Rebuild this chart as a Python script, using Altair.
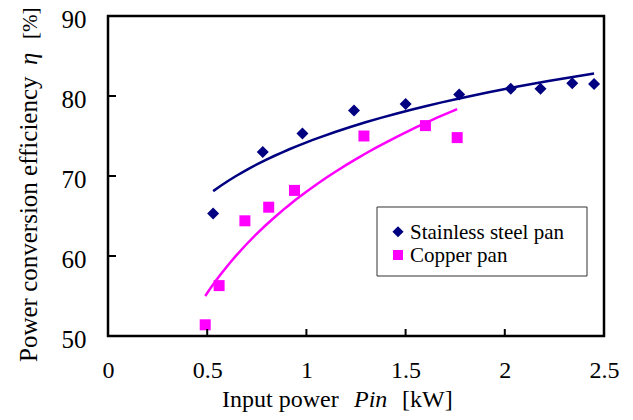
import altair as alt
import pandas as pd

# Stainless steel pan measurements
ss_power = [0.53, 0.78, 0.98, 1.24, 1.50, 1.77, 2.03, 2.18, 2.34, 2.45]
ss_eff = [65.3, 73.0, 75.3, 78.2, 79.0, 80.2, 80.9, 80.9, 81.6, 81.5]
# Copper pan measurements
cu_power = [0.49, 0.56, 0.69, 0.81, 0.94, 1.29, 1.60, 1.76]
cu_eff = [51.4, 56.3, 64.4, 66.1, 68.2, 75.0, 76.3, 74.8]

series_names = ["Stainless steel pan", "Copper pan"]
series_colors = ["#000080", "#FF00FF"]
series_shapes = ["diamond", "square"]
series_sizes = [144, 121]

x_ticks = [0, 0.5, 1, 1.5, 2, 2.5]
y_ticks = [50, 60, 70, 80, 90]

x_title_parts = ["Input power", "Pin", "[kW]"]
y_title_parts = ["Power conversion efficiency", "η", "[%]"]

df = pd.DataFrame({
    "P": ss_power + cu_power,
    "eta": ss_eff + cu_eff,
    "series": [series_names[0]] * len(ss_power) + [series_names[1]] * len(cu_power),
})

FONT = "Times New Roman"
W, H = 496, 320

xscale = alt.Scale(domain=[0, 2.5], nice=False, zero=False)
yscale = alt.Scale(domain=[50, 90], nice=False, zero=False)

base = alt.Chart(df)

points = base.mark_point(filled=True, opacity=1).encode(
    x=alt.X("P:Q", scale=xscale,
            axis=alt.Axis(values=x_ticks, title=None, grid=False, ticks=False, domain=False,
                          format="~g", labelFont=FONT, labelFontSize=24, labelColor="black",
                          labelPadding=22, labelFlush=False)),
    y=alt.Y("eta:Q", scale=yscale,
            axis=alt.Axis(values=y_ticks, title=None, grid=False, ticks=False, domain=False,
                          labelFont=FONT, labelFontSize=25, labelColor="black",
                          labelPadding=22, labelOffset=3)),
    color=alt.Color("series:N", scale=alt.Scale(domain=series_names, range=series_colors),
                    legend=None),
    shape=alt.Shape("series:N", scale=alt.Scale(domain=series_names, range=series_shapes),
                    legend=None),
    size=alt.Size("series:N", scale=alt.Scale(domain=series_names, range=series_sizes),
                  legend=None),
)

def trend(name, color):
    return base.transform_filter(alt.datum.series == name).transform_regression(
        "P", "eta", method="log"
    ).mark_line(color=color, strokeWidth=2.5).encode(
        x=alt.X("P:Q", scale=xscale),
        y=alt.Y("eta:Q", scale=yscale),
    )

line_ss = trend(series_names[0], series_colors[0])
line_cu = trend(series_names[1], series_colors[1])

xtick_df = pd.DataFrame({"v": x_ticks})
ytick_df = pd.DataFrame({"v": y_ticks})
xticks = alt.Chart(xtick_df).mark_rule(color="black", strokeWidth=2).encode(
    x=alt.X("v:Q", scale=xscale), y=alt.value(H), y2=alt.value(H - 7))
yticks = alt.Chart(ytick_df).mark_rule(color="black", strokeWidth=2).encode(
    y=alt.Y("v:Q", scale=yscale), x=alt.value(0), x2=alt.value(8))

def txt(s, x, y, italic=False, angle=0, size=24):
    return alt.Chart(pd.DataFrame({"t": [s]})).mark_text(
        font=FONT, fontSize=size, fontStyle="italic" if italic else "normal",
        align="left", baseline="alphabetic", angle=angle, color="black"
    ).encode(text="t:N", x=alt.value(x), y=alt.value(y))

xt1 = txt(x_title_parts[0], 114, 391)
xt2 = txt(x_title_parts[1], 246, 391, italic=True)
xt3 = txt(x_title_parts[2], 294, 391)

yt1 = txt(y_title_parts[0], -71, 346, angle=270, size=25)
yt2 = txt(y_title_parts[1], -71, 49, italic=True, angle=270, size=25)
yt3 = txt(y_title_parts[2], -71, 23, angle=270, size=21)

# Legend drawn as a boxed key inside the plot
leg_box = alt.Chart(pd.DataFrame({"k": [0]})).mark_rect(
    fill="white", stroke="#333333", strokeWidth=1
).encode(x=alt.value(269), x2=alt.value(479), y=alt.value(191), y2=alt.value(260))

def leg_sym(i, yy):
    return alt.Chart(pd.DataFrame({"k": [series_names[i]]})).mark_point(
        filled=True, opacity=1, shape=series_shapes[i], color=series_colors[i],
        size=series_sizes[i] - 20
    ).encode(x=alt.value(290), y=alt.value(yy))

def leg_txt(i, yy):
    return alt.Chart(pd.DataFrame({"t": [series_names[i]]})).mark_text(
        font=FONT, fontSize=21, align="left", baseline="alphabetic", color="black"
    ).encode(text="t:N", x=alt.value(302), y=alt.value(yy))

legend = [leg_box, leg_sym(0, 215.7), leg_sym(1, 239), leg_txt(0, 222.5), leg_txt(1, 246)]

chart = alt.layer(
    line_ss, line_cu, points, xticks, yticks, *legend, xt1, xt2, xt3, yt1, yt2, yt3
).properties(
    width=W, height=H,
    autosize=alt.AutoSizeParams(type="none"),
    padding={"left": 100, "top": 8, "right": 21, "bottom": 76},
    background="white",
).configure(
    font=FONT
).configure_axis(
    labelFont=FONT
).configure_view(stroke="black", strokeWidth=2.5)

chart.save("out.html", embed_options={"renderer": "svg", "actions": False})
